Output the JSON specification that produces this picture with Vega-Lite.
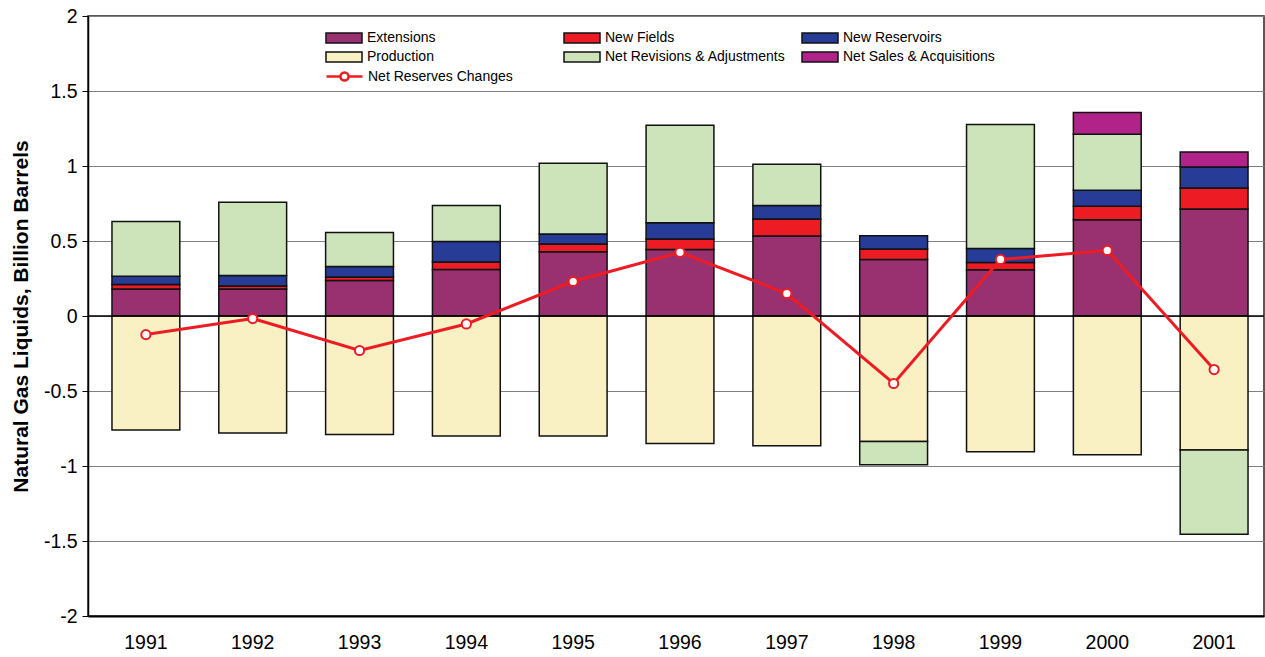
{
  "$schema": "https://vega.github.io/schema/vega-lite/v6.json",
  "width": 1265,
  "height": 657,
  "autosize": {"type": "fit", "contains": "padding"},
  "padding": {"left": 10, "top": 6, "right": 0, "bottom": 5},
  "config": {
    "font": "Liberation Sans",
    "view": {"stroke": "#222222", "strokeWidth": 1.5},
    "axis": {"labelFont": "Liberation Sans", "labelColor": "#000000", "domainColor": "#000000", "tickColor": "#000000", "titleFont": "Liberation Sans"}
  },
  "datasets": {
    "bars": [
      {"year": "1991", "type": "Extensions", "value": 0.18, "k": 1},
      {"year": "1991", "type": "New Fields", "value": 0.03, "k": 2},
      {"year": "1991", "type": "New Reservoirs", "value": 0.055, "k": 3},
      {"year": "1991", "type": "Production", "value": -0.76, "k": 4},
      {"year": "1991", "type": "Net Revisions & Adjustments", "value": 0.365, "k": 5},
      {"year": "1992", "type": "Extensions", "value": 0.18, "k": 1},
      {"year": "1992", "type": "New Fields", "value": 0.02, "k": 2},
      {"year": "1992", "type": "New Reservoirs", "value": 0.07, "k": 3},
      {"year": "1992", "type": "Production", "value": -0.78, "k": 4},
      {"year": "1992", "type": "Net Revisions & Adjustments", "value": 0.488, "k": 5},
      {"year": "1993", "type": "Extensions", "value": 0.237, "k": 1},
      {"year": "1993", "type": "New Fields", "value": 0.023, "k": 2},
      {"year": "1993", "type": "New Reservoirs", "value": 0.07, "k": 3},
      {"year": "1993", "type": "Production", "value": -0.79, "k": 4},
      {"year": "1993", "type": "Net Revisions & Adjustments", "value": 0.226, "k": 5},
      {"year": "1994", "type": "Extensions", "value": 0.31, "k": 1},
      {"year": "1994", "type": "New Fields", "value": 0.05, "k": 2},
      {"year": "1994", "type": "New Reservoirs", "value": 0.137, "k": 3},
      {"year": "1994", "type": "Production", "value": -0.8, "k": 4},
      {"year": "1994", "type": "Net Revisions & Adjustments", "value": 0.239, "k": 5},
      {"year": "1995", "type": "Extensions", "value": 0.429, "k": 1},
      {"year": "1995", "type": "New Fields", "value": 0.051, "k": 2},
      {"year": "1995", "type": "New Reservoirs", "value": 0.066, "k": 3},
      {"year": "1995", "type": "Production", "value": -0.8, "k": 4},
      {"year": "1995", "type": "Net Revisions & Adjustments", "value": 0.472, "k": 5},
      {"year": "1996", "type": "Extensions", "value": 0.444, "k": 1},
      {"year": "1996", "type": "New Fields", "value": 0.069, "k": 2},
      {"year": "1996", "type": "New Reservoirs", "value": 0.109, "k": 3},
      {"year": "1996", "type": "Production", "value": -0.85, "k": 4},
      {"year": "1996", "type": "Net Revisions & Adjustments", "value": 0.65, "k": 5},
      {"year": "1997", "type": "Extensions", "value": 0.533, "k": 1},
      {"year": "1997", "type": "New Fields", "value": 0.113, "k": 2},
      {"year": "1997", "type": "New Reservoirs", "value": 0.09, "k": 3},
      {"year": "1997", "type": "Production", "value": -0.865, "k": 4},
      {"year": "1997", "type": "Net Revisions & Adjustments", "value": 0.276, "k": 5},
      {"year": "1998", "type": "Extensions", "value": 0.377, "k": 1},
      {"year": "1998", "type": "New Fields", "value": 0.069, "k": 2},
      {"year": "1998", "type": "New Reservoirs", "value": 0.089, "k": 3},
      {"year": "1998", "type": "Production", "value": -0.836, "k": 4},
      {"year": "1998", "type": "Net Revisions & Adjustments", "value": -0.155, "k": 5},
      {"year": "1999", "type": "Extensions", "value": 0.308, "k": 1},
      {"year": "1999", "type": "New Fields", "value": 0.049, "k": 2},
      {"year": "1999", "type": "New Reservoirs", "value": 0.093, "k": 3},
      {"year": "1999", "type": "Production", "value": -0.905, "k": 4},
      {"year": "1999", "type": "Net Revisions & Adjustments", "value": 0.827, "k": 5},
      {"year": "2000", "type": "Extensions", "value": 0.642, "k": 1},
      {"year": "2000", "type": "New Fields", "value": 0.089, "k": 2},
      {"year": "2000", "type": "New Reservoirs", "value": 0.107, "k": 3},
      {"year": "2000", "type": "Production", "value": -0.925, "k": 4},
      {"year": "2000", "type": "Net Revisions & Adjustments", "value": 0.374, "k": 5},
      {"year": "2000", "type": "Net Sales & Acquisitions", "value": 0.145, "k": 6},
      {"year": "2001", "type": "Extensions", "value": 0.713, "k": 1},
      {"year": "2001", "type": "New Fields", "value": 0.14, "k": 2},
      {"year": "2001", "type": "New Reservoirs", "value": 0.141, "k": 3},
      {"year": "2001", "type": "Production", "value": -0.893, "k": 4},
      {"year": "2001", "type": "Net Revisions & Adjustments", "value": -0.562, "k": 5},
      {"year": "2001", "type": "Net Sales & Acquisitions", "value": 0.1, "k": 6}
    ],
    "net": [
      {"year": "1991", "net": -0.124},
      {"year": "1992", "net": -0.017},
      {"year": "1993", "net": -0.23},
      {"year": "1994", "net": -0.053},
      {"year": "1995", "net": 0.23},
      {"year": "1996", "net": 0.424},
      {"year": "1997", "net": 0.15},
      {"year": "1998", "net": -0.45},
      {"year": "1999", "net": 0.377},
      {"year": "2000", "net": 0.437},
      {"year": "2001", "net": -0.357}
    ]
  },
  "layer": [
    {
      "data": {"name": "bars"},
      "mark": {"type": "bar", "stroke": "#111111", "strokeWidth": 1.5},
      "encoding": {
        "x": {
          "field": "year", "type": "ordinal",
          "scale": {"paddingInner": 0.365, "paddingOuter": 0.187, "align": 0.6},
          "axis": {"title": null, "labelFontSize": 19.5, "labelAngle": 0, "ticks": false, "tickSize": 0, "labelPadding": 17, "domainWidth": 2}
        },
        "y": {
          "field": "value", "type": "quantitative", "stack": "zero",
          "scale": {"domain": [-2, 2], "nice": false},
          "axis": {
            "values": [-2, -1.5, -1, -0.5, 0, 0.5, 1, 1.5, 2],
            "labelExpr": "datum.value + ''",
            "labelFontSize": 19.5, "tickSize": 6, "labelPadding": 5,
            "grid": true, "gridColor": "#808080", "gridWidth": 1, "domainWidth": 1.5,
            "title": "Natural Gas Liquids, Billion Barrels", "titleFontSize": 21, "titleFontWeight": "bold", "titleColor": "#000000", "titlePadding": 12
          }
        },
        "color": {
          "field": "type", "type": "nominal",
          "scale": {
            "domain": ["Extensions", "New Fields", "New Reservoirs", "Production", "Net Revisions & Adjustments", "Net Sales & Acquisitions"],
            "range": ["#993070", "#ED1C24", "#263C96", "#F9F1C3", "#CDE4BB", "#B12389"]
          },
          "legend": {
            "title": null, "orient": "none", "legendX": 246, "legendY": 12,
            "direction": "horizontal",
            "columns": 3, "gridAlign": "all", "columnPadding": 13, "rowPadding": 1,
            "symbolType": "M-2,-0.55H2V0.55H-2Z",
            "symbolSize": 324, "symbolStrokeColor": "#111111", "symbolStrokeWidth": 1.5, "symbolOpacity": 1,
            "labelFontSize": 14, "labelOffset": 13, "labelColor": "#000000", "labelLimit": 300, "padding": 0
          }
        },
        "order": {"field": "k", "type": "quantitative"}
      }
    },
    {
      "data": {"values": [{}]},
      "mark": {"type": "rule", "color": "#000000", "strokeWidth": 1.5},
      "encoding": {"y": {"datum": 0}}
    },
    {
      "data": {"name": "net"},
      "mark": {"type": "line", "strokeWidth": 3, "color": "#ED1C24"},
      "encoding": {
        "x": {"field": "year", "type": "ordinal"},
        "y": {"field": "net", "type": "quantitative"}
      }
    },
    {
      "data": {"name": "net"},
      "mark": {"type": "point", "filled": true, "fill": "#ffffff", "stroke": "#ED1C24", "strokeWidth": 2, "size": 85, "opacity": 1},
      "encoding": {
        "x": {"field": "year", "type": "ordinal"},
        "y": {"field": "net", "type": "quantitative"}
      }
    },
    {
      "data": {"values": []},
      "mark": {"type": "point", "filled": false, "color": "#ED1C24", "strokeWidth": 2.5, "size": 324, "opacity": 1},
      "encoding": {
        "x": {"field": "year", "type": "ordinal"},
        "y": {"field": "net", "type": "quantitative"},
        "shape": {
          "datum": "Net Reserves Changes",
          "scale": {"domain": ["Net Reserves Changes"], "range": ["M-2,0H-0.45M0.45,0H2M0.45,0A0.45,0.45,0,1,1,-0.45,0A0.45,0.45,0,1,1,0.45,0"]},
          "legend": {
            "title": null, "orient": "none", "legendX": 246, "legendY": 50,
            "symbolSize": 324, "symbolOpacity": 1, "symbolStrokeWidth": 2.5,
            "labelFontSize": 14, "labelOffset": 13, "labelColor": "#000000", "labelLimit": 300, "padding": 0
          }
        }
      }
    }
  ]
}
